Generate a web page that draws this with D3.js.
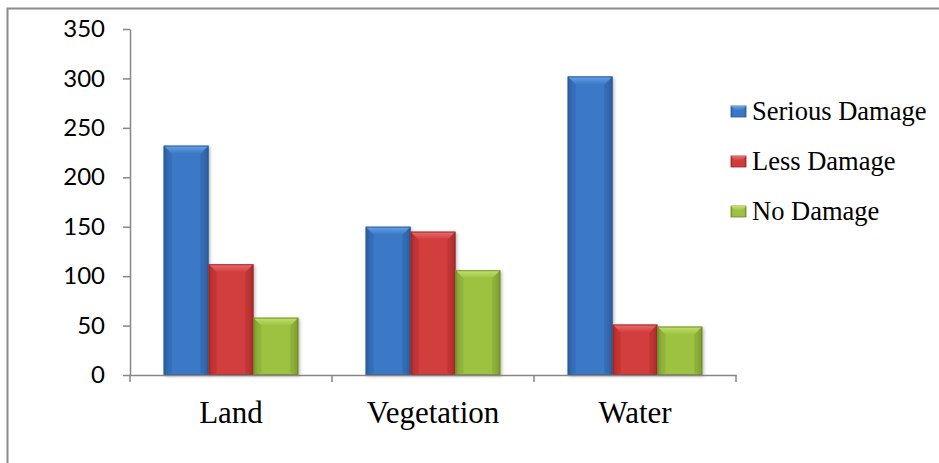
<!DOCTYPE html>
<html>
<head>
<meta charset="utf-8">
<script src="https://cdn.jsdelivr.net/npm/d3@7"></script>
<style>
  html, body { margin: 0; padding: 0; background: #fff; }
  svg { display: block; }
</style>
</head>
<body>
<svg id="chart" width="939" height="463"></svg>
<script>
// Damage counts by land-cover class
const categories = ["Land", "Vegetation", "Water"];
const seriesNames = ["Serious Damage", "Less Damage", "No Damage"];
const seriousDamage = [232, 150, 302];
const lessDamage = [112, 145, 51];
const noDamage = [58, 106, 49];
const yTicks = [0, 50, 100, 150, 200, 250, 300, 350];

const seriesValues = [seriousDamage, lessDamage, noDamage];
const palette = [
  { base: "#3a78c6", light: "#6aa3e8", dark: "#2a5d9e", edge: "#2b568f" },
  { base: "#d23c3c", light: "#ec6e6e", dark: "#a82c2c", edge: "#8f2626" },
  { base: "#9cc241", light: "#c3e070", dark: "#7c9c2e", edge: "#6a8628" }
];

const svg = d3.select("#chart");
const defs = svg.append("defs");

// Frame around the chart area
svg.append("rect")
  .attr("x", 7.5).attr("y", 8.5)
  .attr("width", 960).attr("height", 480)
  .attr("fill", "none").attr("stroke", "#8c8c8c").attr("stroke-width", 2);

const plot = { left: 130, right: 736, top: 29, bottom: 375 };

const x = d3.scaleBand().domain(categories).range([plot.left, plot.right]).paddingInner(0).paddingOuter(0);
const xSeries = d3.scaleBand().domain(d3.range(seriesNames.length))
  .range([0, x.bandwidth()]).paddingInner(0).paddingOuter(0.75);
const y = d3.scaleLinear().domain([0, 350]).range([plot.bottom, plot.top]);

// Gradients: horizontal shading for the bar body, vertical for the top bevel
palette.forEach((c, i) => {
  const g = defs.append("linearGradient").attr("id", "body" + i)
    .attr("x1", "0").attr("x2", "1").attr("y1", "0").attr("y2", "0");
  g.append("stop").attr("offset", "0").attr("stop-color", c.dark);
  g.append("stop").attr("offset", "0.12").attr("stop-color", c.base);
  g.append("stop").attr("offset", "0.5").attr("stop-color", c.base);
  g.append("stop").attr("offset", "0.88").attr("stop-color", c.base);
  g.append("stop").attr("offset", "1").attr("stop-color", c.dark);
  const t = defs.append("linearGradient").attr("id", "top" + i)
    .attr("x1", "0").attr("x2", "0").attr("y1", "0").attr("y2", "1");
  t.append("stop").attr("offset", "0").attr("stop-color", c.light);
  t.append("stop").attr("offset", "1").attr("stop-color", c.base);
});

const shadow = defs.append("filter").attr("id", "shadow")
  .attr("x", "-20%").attr("y", "-5%").attr("width", "140%").attr("height", "115%");
shadow.append("feDropShadow").attr("dx", 1.5).attr("dy", 1.5).attr("stdDeviation", 1.5)
  .attr("flood-color", "#000").attr("flood-opacity", 0.25);

// Axes
const yAxis = d3.axisLeft(y).tickValues(yTicks).tickSize(7).tickPadding(18).tickSizeOuter(0);
const gy = svg.append("g").attr("transform", `translate(${plot.left},0)`).call(yAxis);
gy.select(".domain").attr("stroke", "#868686").attr("stroke-width", 1.5);
gy.selectAll(".tick line").attr("stroke", "#868686").attr("stroke-width", 1.5);
gy.selectAll(".tick text")
  .attr("font-family", "Lato, 'Open Sans', sans-serif")
  .attr("font-size", 24).attr("fill", "#000");

const bars = svg.append("g");
categories.forEach((cat, ci) => {
  seriesValues.forEach((vals, si) => {
    const v = vals[ci];
    const bx = x(cat) + xSeries(si);
    const bw = xSeries.bandwidth();
    const by = y(v);
    const bh = y(0) - by;
    const bevel = Math.min(8, bh / 2);
    const gbar = bars.append("g").attr("filter", "url(#shadow)");
    gbar.append("rect")
      .attr("x", bx).attr("y", by).attr("width", bw).attr("height", bh)
      .attr("fill", `url(#body${si})`);
    // top bevel
    gbar.append("path")
      .attr("d", `M${bx},${by} L${bx + bw},${by} L${bx + bw - bevel},${by + bevel} L${bx + bevel},${by + bevel} Z`)
      .attr("fill", `url(#top${si})`);
    // side bevels
    gbar.append("path")
      .attr("d", `M${bx},${by} L${bx + bevel},${by + bevel} L${bx + bevel},${by + bh - 2} L${bx},${by + bh} Z`)
      .attr("fill", palette[si].dark).attr("opacity", 0.35);
    gbar.append("path")
      .attr("d", `M${bx + bw},${by} L${bx + bw - bevel},${by + bevel} L${bx + bw - bevel},${by + bh - 2} L${bx + bw},${by + bh} Z`)
      .attr("fill", palette[si].dark).attr("opacity", 0.45);
    gbar.append("rect")
      .attr("x", bx + 0.5).attr("y", by + 0.5).attr("width", bw - 1).attr("height", bh - 1)
      .attr("fill", "none").attr("stroke", palette[si].edge).attr("stroke-width", 1).attr("opacity", 0.8);
  });
});

// Category axis drawn over the bar bases
const xAxis = d3.axisBottom(x).tickSize(0).tickPadding(26);
const gx = svg.append("g").attr("transform", `translate(0,${plot.bottom})`).call(xAxis);
gx.select(".domain").attr("stroke", "#868686").attr("stroke-width", 1.5);
gx.selectAll(".tick text")
  .attr("font-family", "'Liberation Serif', 'Times New Roman', serif")
  .attr("font-size", 31).attr("fill", "#000")
  .attr("dy", "0.71em");
// Tick marks at band boundaries
const boundaries = categories.map(c => x(c)).concat([x.range()[1]]);
gx.selectAll(".bound").data(boundaries).enter().append("line")
  .attr("x1", d => d).attr("x2", d => d).attr("y1", 0).attr("y2", 7)
  .attr("stroke", "#868686").attr("stroke-width", 1.5);

// Legend
const legend = svg.append("g").attr("transform", "translate(731,112)");
seriesNames.forEach((name, i) => {
  const row = legend.append("g").attr("transform", `translate(0,${i * 50})`);
  row.append("rect").attr("x", 0).attr("y", -6).attr("width", 15).attr("height", 11)
    .attr("fill", `url(#body${i})`).attr("stroke", palette[i].edge).attr("stroke-width", 0.8);
  row.append("path").attr("d", "M0,-6 L15,-6 L11,-1.5 L4,-1.5 Z").attr("fill", `url(#top${i})`);
  row.append("text").attr("x", 21).attr("y", 7.5)
    .attr("font-family", "'Liberation Serif', 'Times New Roman', serif")
    .attr("font-size", 26.5).attr("fill", "#000").text(name);
});
</script>
</body>
</html>
